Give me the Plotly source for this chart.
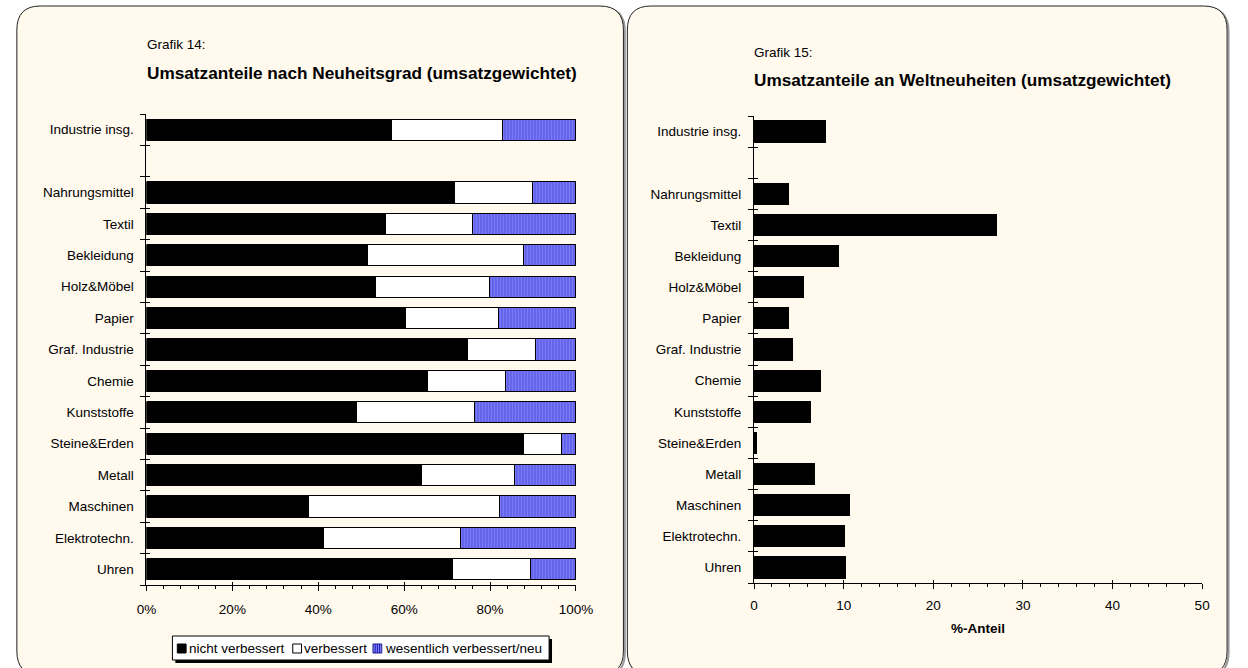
import plotly.graph_objects as go

W, H = 1248, 668
FONT = "Liberation Sans, Arial, sans-serif"

# Branchen (leere Zeile trennt Gesamtwert von den Branchen)
categories = ["Industrie insg.", "", "Nahrungsmittel", "Textil", "Bekleidung",
              "Holz&Möbel", "Papier", "Graf. Industrie", "Chemie", "Kunststoffe",
              "Steine&Erden", "Metall", "Maschinen", "Elektrotechn.", "Uhren"]

# Grafik 14: Umsatzanteile nach Neuheitsgrad in %
nicht_verbessert = [57.1, None, 71.7, 55.6, 51.5, 53.4, 60.4, 74.7, 65.5, 49.0,
                    87.7, 64.1, 37.8, 41.2, 71.3]
verbessert = [25.7, None, 18.1, 20.3, 36.2, 26.5, 21.6, 15.8, 18.0, 27.3,
              9.0, 21.6, 44.4, 31.9, 18.2]
wesentlich_neu = [17.2, None, 10.2, 24.1, 12.3, 20.1, 18.0, 9.5, 16.5, 23.7,
                  3.3, 14.3, 17.8, 26.9, 10.5]

# Grafik 15: Umsatzanteile an Weltneuheiten in %
weltneuheiten = [8.0, None, 3.9, 27.0, 9.4, 5.5, 3.8, 4.3, 7.4, 6.3,
                 0.3, 6.8, 10.7, 10.1, 10.2]

pct_ticks = [0, 20, 40, 60, 80, 100]
pct_labels = ["0%", "20%", "40%", "60%", "80%", "100%"]
anteil_ticks = [0, 10, 20, 30, 40, 50]
anteil_labels = ["0", "10", "20", "30", "40", "50"]

series_names = ["nicht verbessert", "verbessert", "wesentlich verbessert/neu"]

pos = list(range(len(categories)))
bounds = [p - 0.5 for p in pos] + [pos[-1] + 0.5]

BLACK = "#000000"
WHITE = "#FFFFFF"
HATCH_BG = "#8282FF"
HATCH_FG = "#1C1CB8"
PANEL = "#FFF9EE"


def px_x(x):
    return x / W


def px_y(y):
    return 1 - y / H


fig = go.Figure()

bar_line = dict(color=BLACK, width=1)
fig.add_trace(go.Bar(y=pos, x=nicht_verbessert, orientation="h", name=series_names[0],
                     marker=dict(color=BLACK, line=bar_line), xaxis="x", yaxis="y"))
fig.add_trace(go.Bar(y=pos, x=verbessert, orientation="h", name=series_names[1],
                     marker=dict(color=WHITE, line=bar_line), xaxis="x", yaxis="y"))
fig.add_trace(go.Bar(y=pos, x=wesentlich_neu, orientation="h", name=series_names[2],
                     marker=dict(color=HATCH_BG, line=bar_line,
                                 pattern=dict(shape="|", size=3, solidity=0.42,
                                              fgcolor=HATCH_FG, bgcolor=HATCH_BG)),
                     xaxis="x", yaxis="y"))
fig.add_trace(go.Bar(y=pos, x=weltneuheiten, orientation="h", name="Weltneuheiten",
                     marker=dict(color=BLACK, line=bar_line),
                     xaxis="x2", yaxis="y2"))

FS = 13.5
tickfont = dict(family=FONT, size=FS, color=BLACK)

# plot areas in pixels
L = dict(x0=139.5, x1=578.5, y0=114, y1=585)
R = dict(x0=760.5, x1=1218.5, y0=116, y1=583)

common_x = dict(showgrid=False, zeroline=False, showline=True, linecolor=BLACK,
                linewidth=1, ticks="outside", ticklen=5, tickcolor=BLACK,
                tickfont=tickfont, fixedrange=True, tickmode="array")
common_y = dict(showgrid=False, zeroline=False, showline=True, linecolor=BLACK,
                linewidth=1, tickmode="array", tickvals=pos, ticktext=categories,
                ticks="outside", ticklen=0, ticklabelstandoff=9,
                range=[pos[-1] + 0.5, pos[0] - 0.5], tickfont=tickfont,
                minor=dict(tickmode="array", tickvals=bounds, ticks="outside",
                           ticklen=5, tickcolor=BLACK, showgrid=False),
                fixedrange=True)
inner_x = dict(showgrid=False, zeroline=False, showline=False, showticklabels=False,
               ticks="inside", ticklen=3, tickcolor=BLACK, fixedrange=True,
               tickmode="array")
inner_y = dict(showgrid=False, zeroline=False, showline=False, showticklabels=False,
               tickmode="array", tickvals=bounds, ticks="inside", ticklen=4,
               tickcolor=BLACK, range=[pos[-1] + 0.5, pos[0] - 0.5], fixedrange=True)

fig.update_layout(
    xaxis=dict(domain=[px_x(L["x0"]), px_x(L["x1"])], anchor="y", range=[0, 100],
               tickvals=pct_ticks, ticktext=pct_labels, ticklabelstandoff=7,
               minor=dict(dtick=4, tick0=0, ticks="outside", ticklen=3,
                          tickcolor=BLACK, showgrid=False), **common_x),
    yaxis=dict(domain=[px_y(L["y1"]), px_y(L["y0"])], anchor="x", **common_y),
    xaxis2=dict(domain=[px_x(R["x0"]), px_x(R["x1"])], anchor="y2", range=[0, 50],
                tickvals=anteil_ticks, ticktext=anteil_labels, ticklabelstandoff=5,
                minor=dict(dtick=2, tick0=0, ticks="outside", ticklen=3,
                           tickcolor=BLACK, showgrid=False),
                title=dict(text="<b>%-Anteil</b>", font=dict(family=FONT, size=FS, color=BLACK),
                           standoff=11),
                **common_x),
    yaxis2=dict(domain=[px_y(R["y1"]), px_y(R["y0"])], anchor="x2", **common_y),
    # upper / inner halves of the crossing tick marks
    xaxis3=dict(overlaying="x", anchor="y", range=[0, 100], tickvals=pct_ticks, **inner_x),
    xaxis4=dict(overlaying="x2", anchor="y2", range=[0, 50], tickvals=anteil_ticks, **inner_x),
    yaxis3=dict(overlaying="y", anchor="x", **inner_y),
    yaxis4=dict(overlaying="y2", anchor="x2", **inner_y),
)

# empty traces so the overlay axes get drawn
for xa, ya in (("x3", "y3"), ("x4", "y4")):
    fig.add_trace(go.Scatter(x=[None], y=[None], xaxis=xa, yaxis=ya,
                             showlegend=False, hoverinfo="skip"))


def rounded_panel(x0, y0, x1, y1, r):
    X = px_x
    Y = px_y
    return (f"M {X(x0 + r)} {Y(y0)} L {X(x1 - r)} {Y(y0)} "
            f"Q {X(x1)} {Y(y0)} {X(x1)} {Y(y0 + r)} L {X(x1)} {Y(y1 - r)} "
            f"Q {X(x1)} {Y(y1)} {X(x1 - r)} {Y(y1)} L {X(x0 + r)} {Y(y1)} "
            f"Q {X(x0)} {Y(y1)} {X(x0)} {Y(y1 - r)} L {X(x0)} {Y(y0 + r)} "
            f"Q {X(x0)} {Y(y0)} {X(x0 + r)} {Y(y0)} Z")


def paper_rect(x0, y0, x1, y1, fill, line_color=None, line_width=0):
    return dict(type="rect", xref="paper", yref="paper", layer="above",
                x0=px_x(x0), x1=px_x(x1), y0=px_y(y1), y1=px_y(y0),
                fillcolor=fill,
                line=dict(color=line_color or fill, width=line_width))


shapes = []
for (x0, y0, x1, y1) in ((7, 6, 627, 675), (631, 6, 1244, 675)):
    shapes.append(dict(type="path", xref="paper", yref="paper", layer="below",
                       path=rounded_panel(x0 + 1.5, y0 + 1.5, x1 + 1.5, y1 + 1.5, 24),
                       line=dict(color="#9A9A9A", width=2), fillcolor="rgba(0,0,0,0)"))
    shapes.append(dict(type="path", xref="paper", yref="paper", layer="below",
                       path=rounded_panel(x0, y0, x1, y1, 24),
                       line=dict(color="#222222", width=1), fillcolor=PANEL))

# legend box with drop shadow
LG = dict(x0=166, x1=551, y0=636, y1=660)
shapes.append(paper_rect(LG["x0"] + 3, LG["y0"] + 3, LG["x1"] + 3, LG["y1"] + 3, BLACK))
shapes.append(paper_rect(LG["x0"], LG["y0"], LG["x1"], LG["y1"], WHITE, BLACK, 1))

legend_items = [  # (symbol left x, text left x)
    (171, 183),
    (289, 300),
    (371, 383),
]
sym_top, sym_bot = 644, 653
shapes.append(paper_rect(legend_items[0][0], sym_top, legend_items[0][0] + 9, sym_bot,
                         BLACK, BLACK, 1))
shapes.append(paper_rect(legend_items[1][0], sym_top, legend_items[1][0] + 9, sym_bot,
                         WHITE, BLACK, 1))
shapes.append(paper_rect(legend_items[2][0], sym_top, legend_items[2][0] + 9, sym_bot,
                         HATCH_BG, "#1A1A80", 1))
for k in range(1, 4):
    xx = legend_items[2][0] + 2.25 * k
    shapes.append(dict(type="line", xref="paper", yref="paper", layer="above",
                       x0=px_x(xx), x1=px_x(xx), y0=px_y(sym_bot), y1=px_y(sym_top),
                       line=dict(color=HATCH_FG, width=1)))

annotations = [
    dict(text="Grafik 14:", x=px_x(140), y=px_y(45), xanchor="left", yanchor="middle",
         font=dict(family=FONT, size=FS, color=BLACK)),
    dict(text="<b>Umsatzanteile nach Neuheitsgrad (umsatzgewichtet)</b>", x=px_x(140),
         y=px_y(73), xanchor="left", yanchor="middle",
         font=dict(family=FONT, size=17.2, color=BLACK)),
    dict(text="Grafik 15:", x=px_x(760), y=px_y(52), xanchor="left", yanchor="middle",
         font=dict(family=FONT, size=FS, color=BLACK)),
    dict(text="<b>Umsatzanteile an Weltneuheiten (umsatzgewichtet)</b>", x=px_x(760),
         y=px_y(80), xanchor="left", yanchor="middle",
         font=dict(family=FONT, size=17.2, color=BLACK)),
]
for name, (_, tx) in zip(series_names, legend_items):
    annotations.append(dict(text=name, x=px_x(tx), y=px_y(648.5), xanchor="left",
                            yanchor="middle", font=dict(family=FONT, size=FS, color=BLACK)))
for a in annotations:
    a.update(xref="paper", yref="paper", showarrow=False, xshift=-2)

fig.update_layout(
    width=W, height=H, margin=dict(l=0, r=0, t=0, b=0),
    paper_bgcolor=WHITE, plot_bgcolor="rgba(0,0,0,0)",
    barmode="stack", bargap=0.32,
    shapes=shapes, annotations=annotations,
    font=dict(family=FONT, size=FS, color=BLACK),
    showlegend=False,
)

fig.write_html("out.html")
